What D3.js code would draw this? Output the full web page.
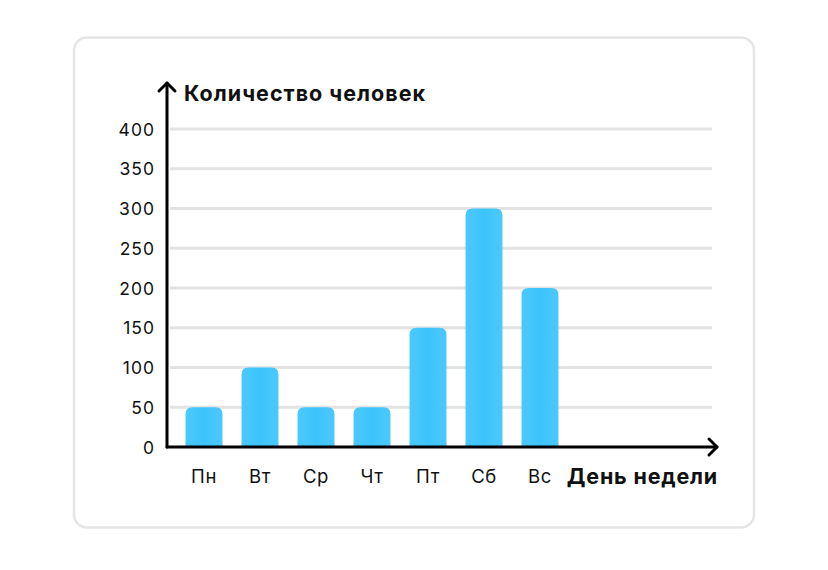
<!DOCTYPE html>
<html><head><meta charset="utf-8">
<script src="https://cdn.jsdelivr.net/npm/d3@7"></script>
<style>body{margin:0;background:#fff}svg{display:block}</style>
</head><body>
<svg id="c" width="828" height="570"></svg>
<script>
const categories = ["Пн","Вт","Ср","Чт","Пт","Сб","Вс"];
const values = [50,100,50,50,150,300,200];
const yTicks = [0,50,100,150,200,250,300,350,400];
const yTitle = "Количество человек";
const xTitle = "День недели";

const svg = d3.select("#c");
const font = "Inter, 'Noto Sans', sans-serif";

svg.append("rect").attr("x",74).attr("y",37.5).attr("width",680).attr("height",490)
  .attr("rx",13).attr("fill","#fff").attr("stroke","#e5e5e5").attr("stroke-width",2.5);

const y = d3.scaleLinear().domain([0,400]).range([447,129]);
const x = d3.scaleBand().domain(categories).range([176,568]).paddingInner(0.34).paddingOuter(0.17);

const defs = svg.append("defs");
const g = defs.append("linearGradient").attr("id","bg").attr("x1","0").attr("x2","1").attr("y1","0").attr("y2","0");
g.append("stop").attr("offset","0").attr("stop-color","#4cc8fb");
g.append("stop").attr("offset","0.5").attr("stop-color","#3dc4fd");
g.append("stop").attr("offset","1").attr("stop-color","#4cc8fb");

// y tick labels
const yAxis = d3.axisLeft(y).tickValues(yTicks).tickSize(0).tickPadding(0);
const gy = svg.append("g").attr("transform","translate(155,0)").call(yAxis);
gy.select(".domain").remove();
gy.selectAll("text").attr("font-family",font).attr("font-size",17.5).attr("letter-spacing",1)
  .attr("fill","#111").attr("dy","0.35em");

svg.append("g").selectAll("line").data(yTicks.filter(d=>d>0)).join("line")
  .attr("x1",170).attr("x2",712).attr("y1",d=>y(d)).attr("y2",d=>y(d))
  .attr("stroke","#e3e3e3").attr("stroke-width",3);

// bars
const r = 7;
svg.append("g").selectAll("path").data(values).join("path")
  .attr("fill","url(#bg)")
  .attr("d",(d,i)=>{
    const x0 = x(categories[i]), w = x.bandwidth(), y0 = y(d), yb = y(0);
    return `M${x0},${yb}V${y0+r}Q${x0},${y0} ${x0+r},${y0}H${x0+w-r}Q${x0+w},${y0} ${x0+w},${y0+r}V${yb}Z`;
  });

// x labels
const xAxis = d3.axisBottom(x).tickSize(0).tickPadding(0);
const gx = svg.append("g").attr("transform","translate(0,477)").call(xAxis);
gx.select(".domain").remove();
gx.selectAll("text").attr("font-family",font).attr("font-size",18.5).attr("letter-spacing",0.6)
  .attr("fill","#111").attr("dy","0.35em");

// axes lines with arrows
const ax = svg.append("g").attr("stroke","#000").attr("stroke-width",3).attr("fill","none").attr("stroke-linecap","round").attr("stroke-linejoin","round");
ax.append("line").attr("x1",167).attr("y1",83).attr("x2",167).attr("y2",447);
ax.append("line").attr("x1",167).attr("y1",447).attr("x2",717).attr("y2",447);
ax.append("path").attr("d","M159,91L167,83L175,91");
ax.append("path").attr("d","M709,439L717,447L709,455");

svg.append("text").attr("x",184).attr("y",101).attr("font-family",font).attr("font-weight",700)
  .attr("font-size",21.5).attr("letter-spacing",1).attr("fill","#111").text(yTitle);
svg.append("text").attr("x",718).attr("y",484).attr("text-anchor","end").attr("font-family",font).attr("font-weight",700)
  .attr("font-size",21.5).attr("letter-spacing",0.8).attr("fill","#111").text(xTitle);
</script>
</body></html>
